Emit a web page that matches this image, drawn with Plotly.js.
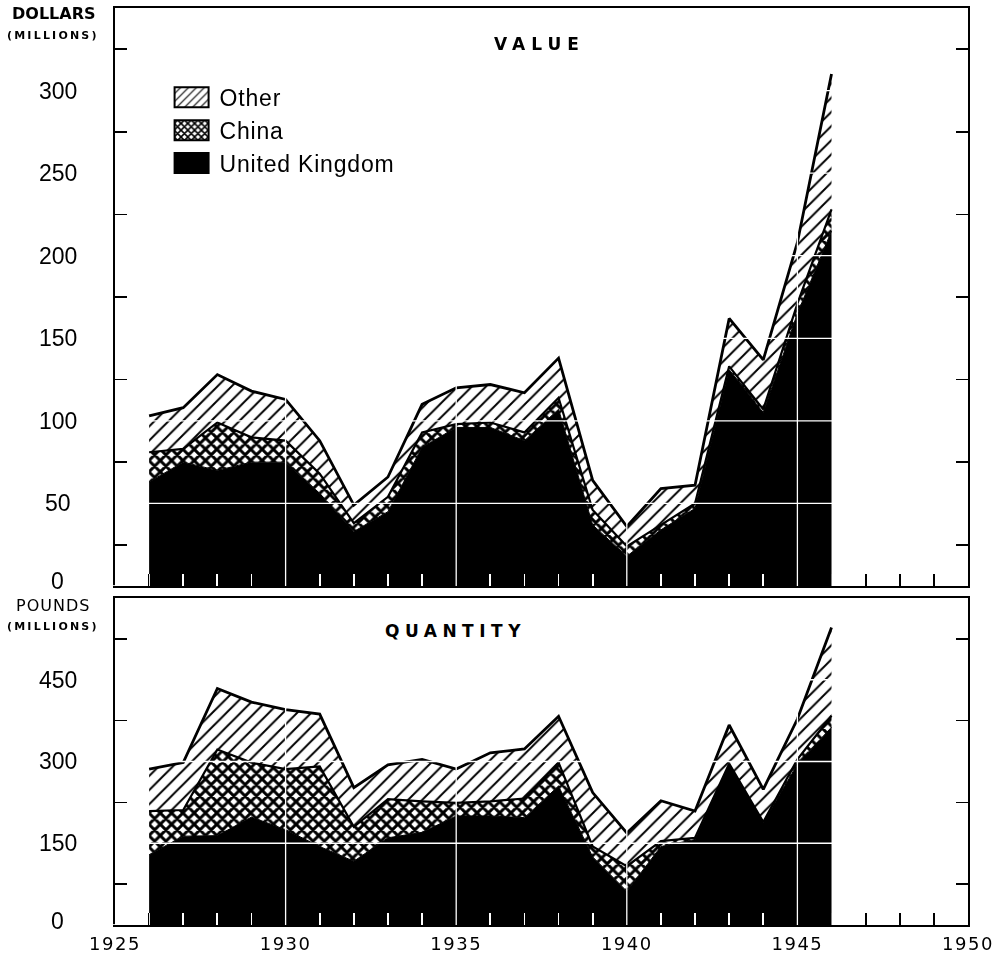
<!DOCTYPE html>
<html>
<head>
<meta charset="utf-8">
<script src="https://cdn.plot.ly/plotly-3.0.1.min.js"></script>
<style>
html,body{margin:0;padding:0;background:#fff;}
#chart{width:994px;height:956px;}
.shapelayer path{mix-blend-mode:difference;}
.xaxislayer-above path{stroke:#fff !important;mix-blend-mode:difference;}
.xtick text{letter-spacing:1.5px;}
.legendtext{letter-spacing:0.8px;}
</style>
</head>
<body>
<div id="chart"></div>
<script>
// ---- data ----
const years = [1926,1927,1928,1929,1930,1931,1932,1933,1934,1935,1936,1937,1938,1939,1940,1941,1942,1943,1944,1945,1946];

// VALUE, dollars (millions)
const valueUK    = [63,75,70,75,75,56,33,45,84,96,96,88,107,37,18,34,47,131,105,165,215];
const valueChina = [18,8,29,15,13,12,5,9,9,2,3,5,7,9,6,3,3,2,2,6,13];
const valueOther = [22,25,29,28,25,20,11,12,17,22,23,24,24,18,12,22,11,29,30,37,82];

// QUANTITY, pounds (millions)
const qtyUK    = [129,163,164,198,175,144,117,160,170,200,200,197,255,125,62,144,157,295,188,295,363];
const qtyChina = [80,48,158,100,111,147,63,71,57,24,27,35,43,19,46,10,3,1,1,9,21];
const qtyOther = [77,87,112,111,109,96,72,63,77,62,89,91,85,99,61,74,49,71,60,74,162];

const valueTicks = [0,50,100,150,200,250,300];
const qtyTicks = [0,150,300,450];
const gridYears = [1930,1935,1940,1945];
const seriesNames = ['Other','China','United Kingdom'];

// ---- styling ----
const BLACK = '#000', WHITE = '#fff';
const SANS = 'DejaVu Sans';
const ARIAL = 'Liberation Sans';
const patOther = {shape:'/', size:10, solidity:0.2, fgcolor:BLACK, bgcolor:WHITE};
const patChina = {shape:'x', size:8, solidity:0.6, fgcolor:BLACK, bgcolor:WHITE};

function stack(uk, china, other, xa, ya, group){
  const base = {type:'scatter', mode:'lines', x:years, xaxis:xa, yaxis:ya, stackgroup:group,
                showlegend:false, hoverinfo:'skip'};
  return [
    Object.assign({}, base, {name:seriesNames[2], y:uk, fill:'tozeroy', fillcolor:BLACK,
      line:{color:BLACK, width:1}}),
    Object.assign({}, base, {name:seriesNames[1], y:china, fill:'tonexty', fillcolor:WHITE,
      fillpattern:patChina, line:{color:BLACK, width:2.2}}),
    Object.assign({}, base, {name:seriesNames[0], y:other, fill:'tonexty', fillcolor:WHITE,
      fillpattern:patOther, line:{color:BLACK, width:2.8}})
  ];
}

const data = [].concat(
  stack(valueUK, valueChina, valueOther, 'x2', 'y2', 'value'),
  stack(qtyUK, qtyChina, qtyOther, 'x', 'y', 'qty')
);

// legend-only swatches
const legendPat = [{shape:'/', size:7, solidity:0.2, fgcolor:BLACK, bgcolor:WHITE},
                   {shape:'x', size:6, solidity:0.55, fgcolor:BLACK, bgcolor:WHITE}, null];
seriesNames.forEach(function(n, i){
  const marker = {color: i === 2 ? BLACK : WHITE, line:{color:BLACK, width:2}};
  if (legendPat[i]) marker.pattern = legendPat[i];
  data.push({type:'bar', x:[null], y:[null], xaxis:'x2', yaxis:'y2', name:n, marker:marker, hoverinfo:'skip'});
});

const axisCommon = {showline:true, linecolor:BLACK, linewidth:1.6, showgrid:false, zeroline:false,
                    layer:'above traces', fixedrange:true};
const xCommon = Object.assign({}, axisCommon, {
  range:[1925,1950], mirror:true, tickmode:'linear', tick0:1925, dtick:5, ticks:'',
  tickfont:{family:SANS, size:18, color:BLACK}, ticklabelstandoff:2,
  minor:{tick0:1925, dtick:1, ticks:'inside', ticklen:12, tickwidth:1.8, tickcolor:BLACK}
});

const shapes = [];
const gridLine = {color:WHITE, width:1.3};
valueTicks.filter(v => v > 0).forEach(v => shapes.push({type:'line', layer:'above', xref:'x2 domain', x0:0, x1:1, yref:'y2', y0:v, y1:v, line:gridLine}));
qtyTicks.filter(v => v > 0).forEach(v => shapes.push({type:'line', layer:'above', xref:'x domain', x0:0, x1:1, yref:'y', y0:v, y1:v, line:gridLine}));
gridYears.forEach(function(yr){
  shapes.push({type:'line', layer:'above', xref:'x2', x0:yr, x1:yr, yref:'y2 domain', y0:0, y1:1, line:gridLine});
  shapes.push({type:'line', layer:'above', xref:'x', x0:yr, x1:yr, yref:'y domain', y0:0, y1:1, line:gridLine});
});
// small outward stub at zero on the left
shapes.push({type:'line', layer:'above', xref:'paper', x0:-0.013, x1:0, yref:'y2', y0:0, y1:0, line:{color:WHITE, width:1.6}});
shapes.push({type:'line', layer:'above', xref:'paper', x0:-0.013, x1:0, yref:'y', y0:0, y1:0, line:{color:WHITE, width:1.6}});

function label(opts){ return Object.assign({showarrow:false, xanchor:'center', yanchor:'middle'}, opts); }
const annotations = [
  label({xref:'paper', x:0.498, yref:'y2 domain', y:0.937,
   text:'<span style="letter-spacing:6px"><b>VALUE</b></span>', font:{family:SANS, size:17, color:BLACK}}),
  label({xref:'paper', x:0.399, yref:'y domain', y:0.899, bgcolor:WHITE, borderpad:7,
   text:'<span style="letter-spacing:5.5px"><b>QUANTITY</b></span>', font:{family:SANS, size:17, color:BLACK}}),
  label({xref:'paper', x:-0.0715, yref:'paper', y:0.9935,
   text:'<b>DOLLARS</b>', font:{family:SANS, size:16, color:BLACK}}),
  label({xref:'paper', x:-0.0727, yref:'paper', y:0.9695,
   text:'<span style="letter-spacing:2.2px"><b>(MILLIONS)</b></span>', font:{family:SANS, size:11, color:BLACK}}),
  label({xref:'paper', x:-0.0727, yref:'paper', y:0.3479,
   text:'<span style="letter-spacing:1px">POUNDS</span>', font:{family:SANS, size:16, color:BLACK}}),
  label({xref:'paper', x:-0.0727, yref:'paper', y:0.326,
   text:'<span style="letter-spacing:2.2px"><b>(MILLIONS)</b></span>', font:{family:SANS, size:11, color:BLACK}})
];
valueTicks.forEach(v => annotations.push(label({xref:'paper', x:-0.067, yref:'y2', y:v, yshift: v === 0 ? 5 : 0,
  text:String(v), font:{family:ARIAL, size:23, color:BLACK}})));
qtyTicks.forEach(v => annotations.push(label({xref:'paper', x:-0.067, yref:'y', y:v, yshift: v === 0 ? 4 : 0,
  text:String(v), font:{family:ARIAL, size:23, color:BLACK}})));

const layout = {
  width:994, height:956,
  margin:{l:115, r:26, t:8, b:31},
  paper_bgcolor:WHITE, plot_bgcolor:WHITE,
  hovermode:false, dragmode:false,
  showlegend:true,
  legend:{x:0.064, y:0.926, xanchor:'left', yanchor:'top', bgcolor:WHITE, borderwidth:0,
          font:{family:ARIAL, size:23, color:BLACK}, itemwidth:40, traceorder:'normal',
          itemclick:false, itemdoubleclick:false},
  xaxis: Object.assign({}, xCommon, {domain:[0,1], anchor:'y'}),
  xaxis2: Object.assign({}, xCommon, {domain:[0,1], anchor:'y2', matches:'x', showticklabels:false}),
  yaxis: Object.assign({}, axisCommon, {domain:[0,0.3566], anchor:'x', range:[0,600], mirror:'ticks',
    tickmode:'linear', tick0:0, dtick:150, ticks:'', showticklabels:false,
    minor:{tick0:0, dtick:75, ticks:'inside', ticklen:12, tickwidth:1.6, tickcolor:BLACK}}),
  yaxis2: Object.assign({}, axisCommon, {domain:[0.3697,1], anchor:'x2', range:[0,350], mirror:'ticks',
    tickmode:'linear', tick0:0, dtick:50, ticks:'', showticklabels:false,
    minor:{tick0:0, dtick:25, ticks:'inside', ticklen:12, tickwidth:1.6, tickcolor:BLACK}}),
  shapes:shapes,
  annotations:annotations
};

const gdEl = document.getElementById('chart');
function enlargeSwatches(){
  gdEl.querySelectorAll('.legend .legendpoints path').forEach(function(p){
    if (p.getAttribute('d') !== 'M14,10H-20V-10H14Z') p.setAttribute('d', 'M14,10H-20V-10H14Z');
  });
}
Plotly.newPlot(gdEl, data, layout, {staticPlot:true, displayModeBar:false}).then(function(gd){
  enlargeSwatches();
  gd.on('plotly_afterplot', enlargeSwatches);
  let n = 0;
  const timer = setInterval(function(){ enlargeSwatches(); if (++n > 40) clearInterval(timer); }, 25);
});
</script>
</body>
</html>
